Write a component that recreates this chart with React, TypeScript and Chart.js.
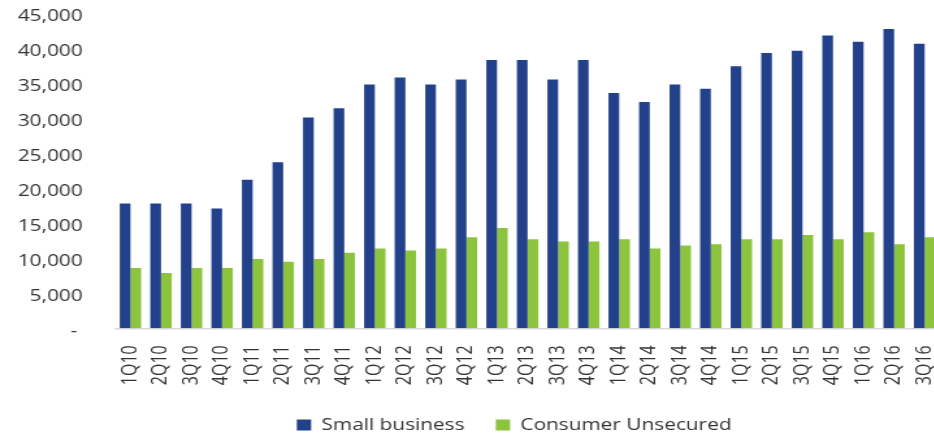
import React, { useEffect, useRef } from "react";
import { Chart, registerables } from "chart.js";

Chart.register(...registerables);

const categories = [
  "1Q10", "2Q10", "3Q10", "4Q10",
  "1Q11", "2Q11", "3Q11", "4Q11",
  "1Q12", "2Q12", "3Q12", "4Q12",
  "1Q13", "2Q13", "3Q13", "4Q13",
  "1Q14", "2Q14", "3Q14", "4Q14",
  "1Q15", "2Q15", "3Q15", "4Q15",
  "1Q16", "2Q16", "3Q16",
];

const smallBusiness = [
  17800, 17800, 17800, 17100,
  21200, 23700, 30100, 31400,
  34800, 35800, 34800, 35500,
  38300, 38300, 35500, 38300,
  33600, 32300, 34800, 34200,
  37400, 39300, 39600, 41800,
  40900, 42700, 40600,
];

const consumerUnsecured = [
  8600, 7900, 8600, 8600,
  9900, 9500, 9900, 10800,
  11400, 11100, 11400, 13000,
  14300, 12700, 12400, 12400,
  12700, 11400, 11800, 12000,
  12700, 12700, 13300, 12700,
  13700, 12000, 13000,
];

const seriesNames = ["Small business", "Consumer Unsecured"];
const yMin = 0;
const yMax = 45000;
const yStep = 5000;

const BLUE = "#22418a";
const GREEN = "#8dc43e";
const TEXT = "#333333";
const FONT = "'Open Sans', 'Noto Sans', sans-serif";
const STRETCH = 1.3;

export default function App() {
  const ref = useRef<HTMLCanvasElement>(null);

  useEffect(() => {
    if (!ref.current) return;
    const chart = new Chart(ref.current, {
      type: "bar",
      data: {
        labels: categories,
        datasets: [
          {
            label: seriesNames[0],
            data: smallBusiness,
            backgroundColor: BLUE,
            categoryPercentage: 0.7,
            barPercentage: 1,
          },
          {
            label: seriesNames[1],
            data: consumerUnsecured,
            backgroundColor: GREEN,
            categoryPercentage: 0.7,
            barPercentage: 1,
          },
        ],
      },
      options: {
        responsive: false,
        animation: false,
        layout: { padding: { top: 13, left: 0, right: 0, bottom: 0 } },
        plugins: {
          legend: {
            position: "bottom",
            labels: {
              boxWidth: 11,
              boxHeight: 11,
              padding: 24,
              color: TEXT,
              font: { family: FONT, size: 16 },
            },
          },
          tooltip: { enabled: false },
        },
        scales: {
          x: {
            grid: { display: false, drawTicks: false },
            border: { display: true, color: "#d9d9d9", width: 1.5 },
            ticks: {
              minRotation: 90,
              maxRotation: 90,
              autoSkip: false,
              padding: 17,
              color: TEXT,
              font: { family: FONT, size: 16 },
            },
            afterFit: (s: any) => {
              s.height = 64.7;
            },
          },
          y: {
            min: yMin,
            max: yMax,
            weight: 2,
            grid: { display: false, drawTicks: false },
            border: { display: false },
            ticks: {
              stepSize: yStep,
              padding: 0,
              labelOffset: 3.5,
              color: TEXT,
              font: { family: FONT, size: 16 },
              callback: (v: any) =>
                Number(v) === 0 ? "- " : Number(v).toLocaleString("en-US"),
            },
            afterFit: (s: any) => {
              s.width = 63.6;
            },
          },
          yGap: {
            type: "linear",
            position: "left",
            weight: 0,
            display: true,
            grid: { display: false, drawTicks: false },
            border: { display: false },
            ticks: { display: false },
            afterFit: (s: any) => {
              s.width = 25;
            },
          },
          yR: {
            type: "linear",
            position: "right",
            display: true,
            grid: { display: false, drawTicks: false },
            border: { display: false },
            ticks: { display: false },
            afterFit: (s: any) => {
              s.width = 68;
            },
          },
        },
      },
    });
    return () => chart.destroy();
  }, []);

  const logicalWidth = 791;
  return (
    <div
      style={{
        position: "fixed",
        left: 0,
        top: 0,
        width: 934,
        height: 435,
        overflow: "hidden",
        background: "#ffffff",
      }}
    >
      <canvas
        ref={ref}
        width={logicalWidth}
        height={443}
        style={{
          display: "block",
          width: logicalWidth,
          height: 443,
          transform: `scaleX(${STRETCH})`,
          transformOrigin: "0 0",
        }}
      />
    </div>
  );
}
